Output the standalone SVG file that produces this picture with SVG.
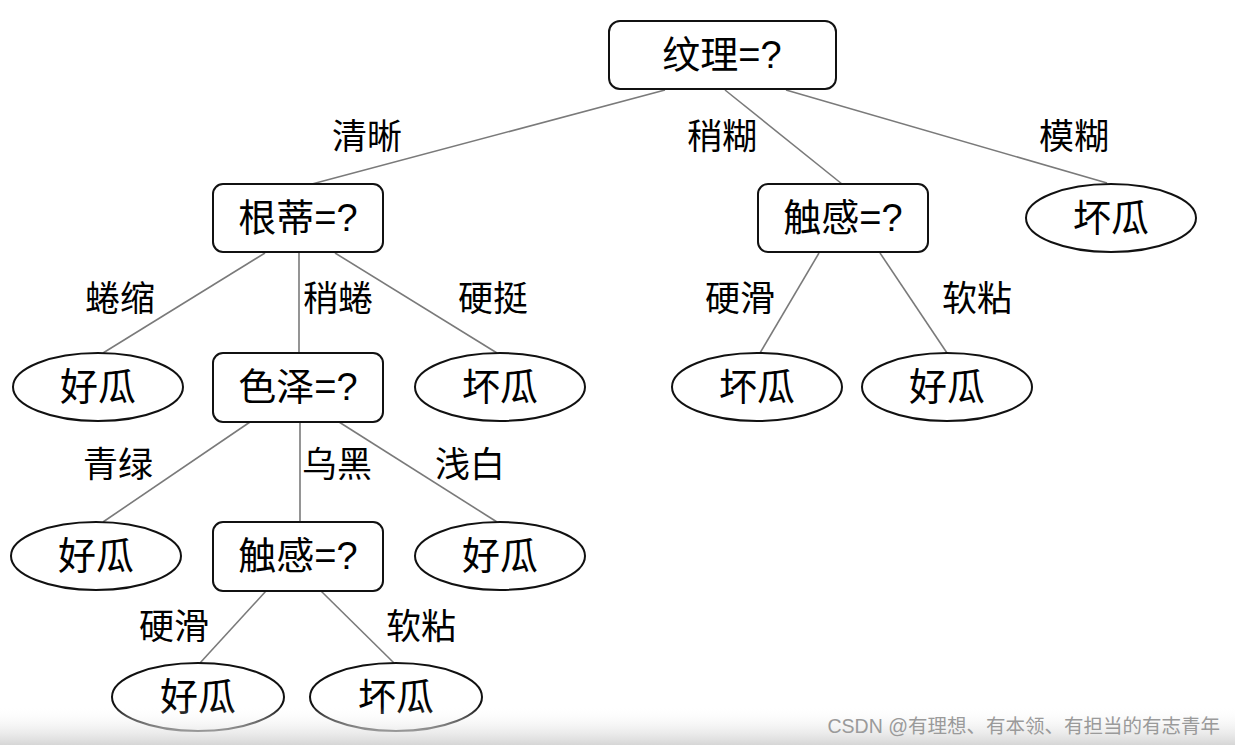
<svg xmlns="http://www.w3.org/2000/svg" width="1235" height="745" viewBox="0 0 1235 745">
<defs>
<linearGradient id="band" x1="0" y1="0" x2="0" y2="1">
<stop offset="0" stop-color="#ffffff" stop-opacity="0"/>
<stop offset="1" stop-color="#d6d6d6"/>
</linearGradient>
</defs>
<style>
.box{fill:#fff;stroke:#111;stroke-width:2}
.leaf{fill:#fff;stroke:#111;stroke-width:2}
.nt{font-family:"Liberation Sans","Noto Sans CJK SC",sans-serif;font-size:38px;fill:#000;text-anchor:middle}
.lt{font-family:"Noto Sans CJK SC",sans-serif;font-size:35px;fill:#000;text-anchor:middle}
.edge{stroke:#7a7a7a;stroke-width:1.6;fill:none}
.wm{font-family:"Liberation Sans","Noto Sans CJK SC",sans-serif;font-size:19.5px;fill:#9a9a9a;text-anchor:end}
</style>
<rect width="1235" height="745" fill="#fff"/>
<g id="connectors">
<line class="edge" x1="665" y1="90" x2="312" y2="184"/>
<line class="edge" x1="725" y1="90" x2="842" y2="184"/>
<line class="edge" x1="786" y1="90" x2="1107" y2="183"/>
<line class="edge" x1="265" y1="253" x2="103" y2="353"/>
<line class="edge" x1="299" y1="253" x2="299" y2="353"/>
<line class="edge" x1="335" y1="253" x2="497" y2="353"/>
<line class="edge" x1="819" y1="253" x2="760" y2="353"/>
<line class="edge" x1="880" y1="253" x2="947" y2="353"/>
<line class="edge" x1="250" y1="422" x2="103" y2="522"/>
<line class="edge" x1="300" y1="422" x2="300" y2="522"/>
<line class="edge" x1="339" y1="422" x2="497" y2="522"/>
<line class="edge" x1="266" y1="591" x2="200" y2="663"/>
<line class="edge" x1="321" y1="591" x2="394" y2="663"/>
<g class="labels">
<text class="lt" x="367" y="149">清晰</text>
<text class="lt" x="722" y="149">稍糊</text>
<text class="lt" x="1074" y="149">模糊</text>
<text class="lt" x="120" y="311">蜷缩</text>
<text class="lt" x="338" y="311">稍蜷</text>
<text class="lt" x="493" y="311">硬挺</text>
<text class="lt" x="740" y="311">硬滑</text>
<text class="lt" x="977" y="311">软粘</text>
<text class="lt" x="118" y="477">青绿</text>
<text class="lt" x="337" y="477">乌黑</text>
<text class="lt" x="470" y="477">浅白</text>
<text class="lt" x="174" y="639">硬滑</text>
<text class="lt" x="421" y="639">软粘</text>
</g>
</g>
<g id="n-root"><rect class="box" x="609" y="21" width="227" height="68" rx="11"/><text class="nt" x="722" y="68">纹理=?</text></g>
<g id="n-gendi"><rect class="box" x="213" y="184" width="170" height="68" rx="10"/><text class="nt" x="298" y="231">根蒂=?</text></g>
<g id="n-chugan1"><rect class="box" x="758" y="184" width="170" height="68" rx="10"/><text class="nt" x="843" y="231">触感=?</text></g>
<g id="n-bad1"><ellipse class="leaf" cx="1111" cy="218" rx="85" ry="34"/><text class="nt" x="1111" y="231">坏瓜</text></g>
<g id="n-good1"><ellipse class="leaf" cx="98" cy="387" rx="85" ry="34"/><text class="nt" x="98" y="400">好瓜</text></g>
<g id="n-sezhe"><rect class="box" x="213" y="353" width="170" height="69" rx="10"/><text class="nt" x="298" y="400">色泽=?</text></g>
<g id="n-bad2"><ellipse class="leaf" cx="500" cy="387" rx="85" ry="34"/><text class="nt" x="500" y="400">坏瓜</text></g>
<g id="n-bad3"><ellipse class="leaf" cx="757" cy="387" rx="85" ry="34"/><text class="nt" x="757" y="400">坏瓜</text></g>
<g id="n-good2"><ellipse class="leaf" cx="947" cy="387" rx="85" ry="34"/><text class="nt" x="947" y="400">好瓜</text></g>
<g id="n-good3"><ellipse class="leaf" cx="96" cy="556" rx="85" ry="34"/><text class="nt" x="96" y="569">好瓜</text></g>
<g id="n-chugan2"><rect class="box" x="213" y="522" width="170" height="69" rx="10"/><text class="nt" x="298" y="569">触感=?</text></g>
<g id="n-good4"><ellipse class="leaf" cx="500" cy="556" rx="85" ry="34"/><text class="nt" x="500" y="569">好瓜</text></g>
<g id="n-good5"><ellipse class="leaf" cx="198" cy="697" rx="86" ry="34"/><text class="nt" x="198" y="710">好瓜</text></g>
<g id="n-bad4"><ellipse class="leaf" cx="396" cy="697" rx="86" ry="34"/><text class="nt" x="396" y="710">坏瓜</text></g>
<rect x="0" y="706" width="1235" height="39" fill="url(#band)"/>
<text class="wm" x="1220" y="733">CSDN @有理想、有本领、有担当的有志青年</text>
</svg>
